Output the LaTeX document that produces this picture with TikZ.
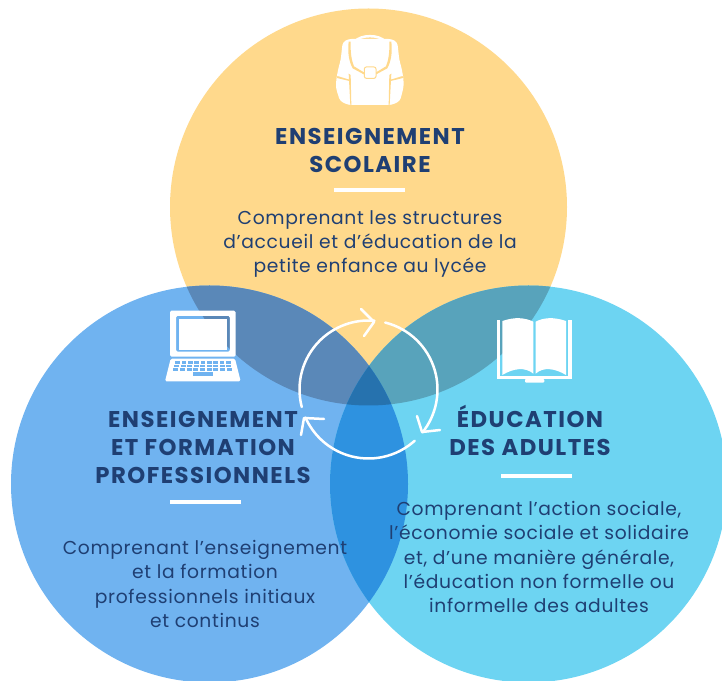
\documentclass[tikz,border=0pt]{standalone}
\usepackage{fontspec}
\setmainfont{Poppins}
\newfontfamily\titrefont[LetterSpace=6.5]{Poppins}
\newfontfamily\corpsfont[LetterSpace=3.5]{Poppins}
\definecolor{scolaire}{HTML}{FFD98C}
\definecolor{formation}{HTML}{70B3F0}
\definecolor{adultes}{HTML}{6DD4F2}
\definecolor{scoform}{HTML}{5A88B8}
\definecolor{scoadu}{HTML}{58A3BB}
\definecolor{foradu}{HTML}{2E92E0}
\definecolor{centre}{HTML}{2672AE}
\definecolor{encre}{HTML}{1F3F73}
\tikzset{
  titre/.style={text=encre, font=\titrefont\fontsize{22.8}{28}\selectfont\bfseries, align=center, inner sep=0pt},
  corps/.style={text=encre, font=\corpsfont\fontsize{18.7}{24.3}\selectfont, align=center, inner sep=0pt},
  barre/.style={white, line width=4pt},
  anneau/.style={white, line width=2.5pt, line cap=round, line join=round}
}
\begin{document}
\begin{tikzpicture}[x=1pt,y=1pt]

\useasboundingbox (0,0) rectangle (722,680);
\clip (0,0) rectangle (722,680);

\coordinate (S) at (368.5,473);
\coordinate (F) at (209.5,196);
\coordinate (A) at (528.5,196);
\coordinate (ring) at (368.5,290.5);
\def\rad{198.5}

% the three discs and their overlaps
\fill[scolaire] (S) circle (\rad);
\fill[formation] (F) circle (\rad);
\fill[adultes] (A) circle (\rad);

\begin{scope}
  \clip (S) circle (\rad);
  \fill[scoform] (F) circle (\rad);
  \fill[scoadu] (A) circle (\rad);
\end{scope}
\begin{scope}
  \clip (F) circle (\rad);
  \fill[foradu] (A) circle (\rad);
  \clip (S) circle (\rad);
  \fill[centre] (A) circle (\rad);
\end{scope}

% ring
\draw[anneau] ([shift={(76:69)}]ring) arc[start angle=76, end angle=-38.5, radius=69];
\draw[anneau] ([shift={(-48:69)}]ring) arc[start angle=-48, end angle=-156, radius=69];
\draw[anneau] ([shift={(194.7:69)}]ring) arc[start angle=194.7, end angle=85, radius=69];
\draw[anneau] (361,371) -- (374,358) -- (364,344);
\draw[anneau] (417,264) -- (422,248) -- (440,250);
\draw[anneau] (324,261) -- (304,262) -- (301,245);

% backpack
\begin{scope}[shift={(320,655)},x=0.3333pt,y=-0.3333pt]
  \draw[white, line width=2.5pt] (105,50) .. controls (120,28) and (180,28) .. (195,50);
  \fill[white, rounded corners=3pt] (68,52) -- (85,42) -- (215,42) -- (232,52) -- (238,105)
     .. controls (245,130) and (252,160) .. (250,190) -- (240,228) -- (215,240) -- (85,240)
     -- (60,228) -- (48,190) .. controls (48,160) and (55,130) .. (62,105) -- cycle;
  \foreach \sx/\ox in {1/0,-1/300} {
    \begin{scope}[shift={(\ox,0)},xscale=\sx]
      \fill[scolaire] (86,50) .. controls (82,85) and (88,112) .. (98,130) -- (135,150) -- (135,144)
         -- (102,124) .. controls (94,105) and (91,80) .. (92,50) -- cycle;
      \fill[scolaire] (86,146) -- (91,240) -- (94,240) -- (92,150) -- cycle;
      \fill[scolaire] (52,153) -- (88,164) -- (88,168) -- (51,159) -- cycle;
    \end{scope}
  }
  \draw[scolaire, line width=1pt, fill=white, rounded corners=2pt] (133,126) rectangle (168,160);
\end{scope}

% laptop
\begin{scope}[shift={(150,380)},x=0.3333pt,y=-0.3333pt]
  \fill[white, even odd rule, rounded corners=1.5pt] (60,32) rectangle (257,170) (78,48) rectangle (240,155);
  \fill[white] (88,58) rectangle (230,150);
  \fill[white, rounded corners=1.5pt] (62,176) -- (255,176) -- (272,244) -- (45,244) -- cycle;
  \foreach \i in {0,...,8} {
    \fill[formation] (76+\i*19,183) rectangle +(14,8);
    \fill[formation] (73+\i*19.5,194) rectangle +(15,8);
    \fill[formation] (70+\i*20,205) rectangle +(15,8);
  }
  \fill[formation] (128,217) rectangle (190,227);
\end{scope}

% book
\begin{scope}[shift={(485,375)},x=0.3333pt,y=-0.3333pt]
  \fill[white] (35,45) rectangle (45,212);
  \fill[white] (250,45) rectangle (260,212);
  \fill[white] (35,212) rectangle (260,222);
  \fill[white, rounded corners=1pt] (120,222) rectangle (178,233);
  \fill[white] (52,48) .. controls (90,35) and (120,38) .. (145,50) -- (145,206)
     .. controls (120,185) and (85,190) .. (52,210) -- cycle;
  \fill[white] (243,48) .. controls (205,35) and (175,38) .. (152,50) -- (152,206)
     .. controls (175,185) and (210,190) .. (243,210) -- cycle;
\end{scope}

% texts
\node[titre] (titreS) at (370,530) {ENSEIGNEMENT\\SCOLAIRE};
\draw[barre] (334,490) -- (405,490);
\node[corps] (corpsS) at (370,436) {Comprenant les structures\\d’accueil et d’éducation de la\\petite enfance au lycée};

\node[titre] (titreF) at (203,233) {ENSEIGNEMENT\\ET FORMATION\\PROFESSIONNELS};
\draw[barre] (170,178) -- (241,178);
\node[corps] (corpsF) at (205,96) {Comprenant l’enseignement\\et la formation\\professionnels initiaux\\et continus};

\node[titre] (titreA) at (530,250) {ÉDUCATION\\DES ADULTES};
\draw[barre] (501,204) -- (572,204);
\node[corps] (corpsA) at (539,123) {Comprenant l’action sociale,\\l’économie sociale et solidaire\\et, d’une manière générale,\\l’éducation non formelle ou\\informelle des adultes};

\end{tikzpicture}
\end{document}
